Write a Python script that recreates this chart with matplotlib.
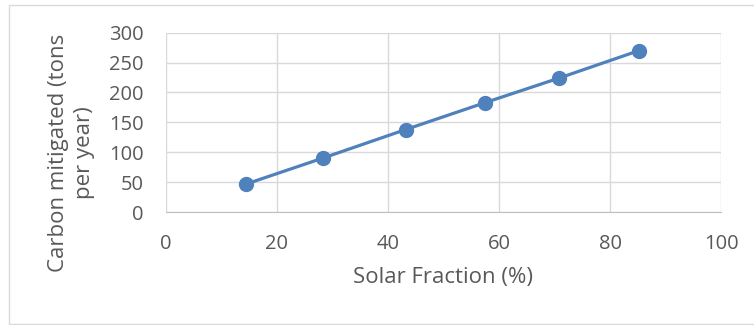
import matplotlib.pyplot as plt
from matplotlib.patches import Rectangle

# Data
solar_fraction = [14.5, 28.2, 43.2, 57.5, 70.8, 85.2]
carbon_mitigated = [47, 90, 138, 183, 224, 270]
x_ticks = [0, 20, 40, 60, 80, 100]
y_ticks = [0, 50, 100, 150, 200, 250, 300]

plt.rcParams['font.family'] = ['Open Sans', 'DejaVu Sans']

W, H = 754, 325
fig = plt.figure(figsize=(W / 100, H / 100), dpi=100)

# outer chart border (right edge falls outside the image)
fig.patches.append(Rectangle((8.5 / W, 1 - 323.5 / H), 760 / W, 319 / H,
                             transform=fig.transFigure, fill=False,
                             edgecolor='#D9D9D9', linewidth=1))

left, right, top, bottom = 166, 721, 32.7, 212
ax = fig.add_axes([left / W, 1 - bottom / H, (right - left) / W, (bottom - top) / H])

ax.plot(solar_fraction, carbon_mitigated, color='#4F81BD', linewidth=2.3,
        marker='o', markersize=10, zorder=3)

ax.set_xlim(0, 100)
ax.set_ylim(0, 300)
ax.set_xticks(x_ticks)
ax.set_yticks(y_ticks)
ax.grid(True, color='#D9D9D9', linewidth=1)
ax.set_axisbelow(True)
for s in ['top', 'right', 'left']:
    ax.spines[s].set_visible(False)
ax.spines['bottom'].set_color('#BFBFBF')
ax.tick_params(length=0, labelsize=14.5, colors='#595959')
ax.tick_params(axis='x', pad=16)
ax.tick_params(axis='y', pad=16)

fig.text(443 / W, 1 - 278 / H, 'Solar Fraction (%)', ha='center', va='center',
         fontsize=16, color='#595959')
fig.text(71.5 / W, 1 - 153 / H, 'Carbon mitigated (tons\nper year)', ha='center',
         va='center', rotation=90, fontsize=16, color='#595959',
         multialignment='center', linespacing=1.3)

fig.savefig('out.png', dpi=100)
